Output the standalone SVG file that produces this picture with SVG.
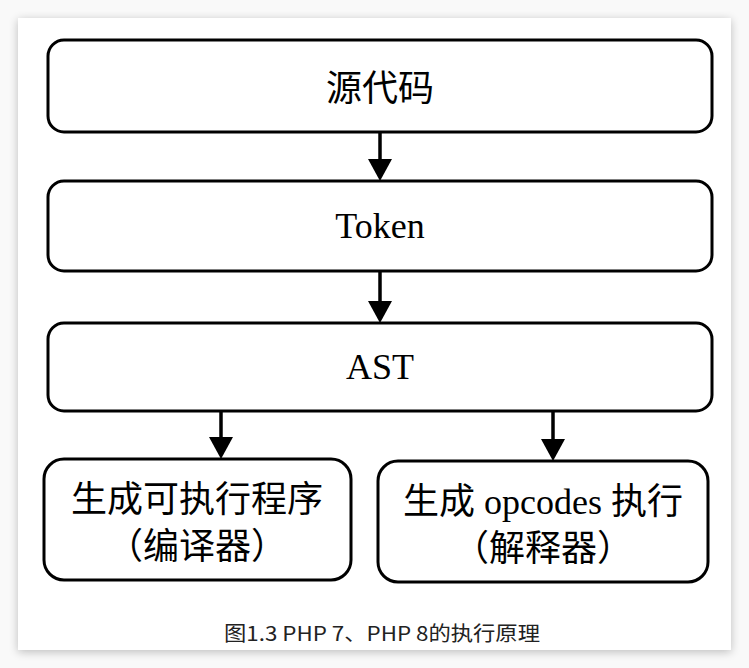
<svg xmlns="http://www.w3.org/2000/svg" width="749" height="668" viewBox="0 0 749 668">
<defs>
<filter id="sh" x="-5%" y="-5%" width="110%" height="110%">
<feGaussianBlur in="SourceAlpha" stdDeviation="5"/>
<feOffset dx="0" dy="2"/>
<feComponentTransfer><feFuncA type="linear" slope="0.25"/></feComponentTransfer>
<feMerge><feMergeNode/><feMergeNode in="SourceGraphic"/></feMerge>
</filter>
<marker id="ah" viewBox="0 0 22 24" refX="12" refY="12" markerWidth="22" markerHeight="24" markerUnits="userSpaceOnUse" orient="auto">
<path d="M0,0 L22,12 L0,24 Z" fill="#000"/>
</marker>
</defs>
<style>
.box{fill:#fff;stroke:#000;stroke-width:3}
.t{font-family:"Liberation Serif","Noto Sans CJK SC",serif;font-size:36px;fill:#000;text-anchor:middle}
.c{stroke:#000;stroke-width:3.5;fill:none}
.cap{font-family:"Noto Sans CJK SC","Liberation Sans",sans-serif;font-size:20px;fill:#222;text-anchor:middle}
</style>
<rect width="749" height="668" fill="#f9f9f9"/>
<rect x="18" y="18" width="713" height="632" fill="#fff" filter="url(#sh)"/>
<g id="n1"><rect class="box" x="48" y="40" width="664" height="92" rx="16"/><text class="t" x="380" y="101">源代码</text></g>
<g id="n2"><rect class="box" x="48" y="181" width="664" height="90" rx="16"/><text class="t" x="380" y="238">Token</text></g>
<g id="n3"><rect class="box" x="48" y="323" width="664" height="88" rx="16"/><text class="t" x="380" y="379">AST</text></g>
<g id="n4"><rect class="box" x="44" y="459" width="307" height="121" rx="20"/><text class="t" x="197" y="512">生成可执行程序</text><text class="t" x="197" y="559">（编译器）</text></g>
<g id="n5"><rect class="box" x="378" y="461" width="330" height="121" rx="20"/><text class="t" x="543" y="514">生成 opcodes 执行</text><text class="t" x="543" y="561">（解释器）</text></g>
<g id="connectors">
<line class="c" x1="380" y1="132" x2="380" y2="171" marker-end="url(#ah)"/>
<line class="c" x1="380" y1="271" x2="380" y2="313" marker-end="url(#ah)"/>
<line class="c" x1="221" y1="411" x2="221" y2="449" marker-end="url(#ah)"/>
<line class="c" x1="553" y1="411" x2="553" y2="451" marker-end="url(#ah)"/>
</g>
<text class="cap" x="382" y="641" textLength="316" lengthAdjust="spacingAndGlyphs">图1.3 PHP 7、PHP 8的执行原理</text>
</svg>
